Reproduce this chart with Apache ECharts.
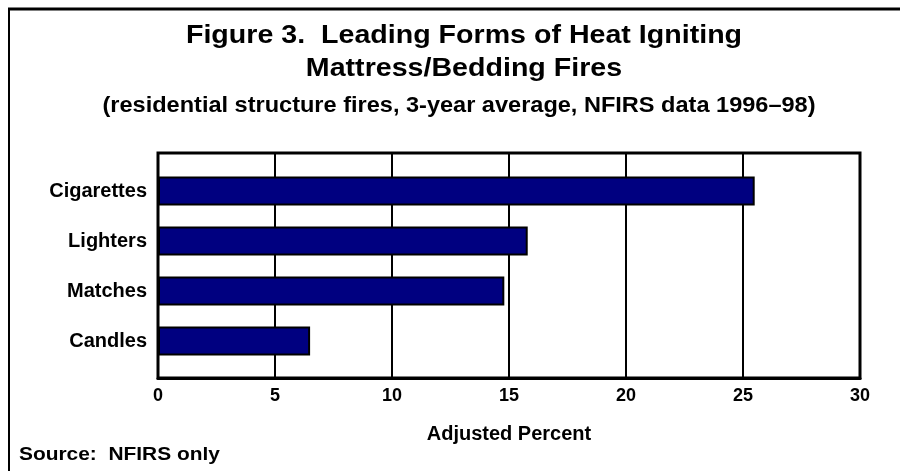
<!DOCTYPE html>
<html>
<head>
<meta charset="utf-8">
<script src="https://cdn.jsdelivr.net/npm/echarts@6/dist/echarts.min.js"></script>
<style>
  html, body { margin: 0; padding: 0; background: #fff; }
  #chart { width: 900px; height: 471px; }
</style>
</head>
<body>
<div id="chart"></div>
<script>
// data
const categories = ["Cigarettes", "Lighters", "Matches", "Candles"];
const percents = [25.5, 15.8, 14.8, 6.5];
const xTicks = { min: 0, max: 30, interval: 5 };

const titleLines = "Figure 3.  Leading Forms of Heat Igniting\nMattress/Bedding Fires";
const subTitle = "(residential structure fires, 3-year average, NFIRS data 1996\u201398)";
const sourceNote = "Source:  NFIRS only";
const xName = "Adjusted Percent";

const FONT = "'Liberation Sans', Arial, Helvetica, sans-serif";

const myChart = echarts.init(document.getElementById("chart"));
const option = {
  backgroundColor: "#fff",
  animation: false,
  textStyle: { fontFamily: FONT },
  grid: [
    // frame + gridlines
    { left: 158, top: 153, width: 702, height: 225, show: true, borderColor: "#000", borderWidth: 3, backgroundColor: "transparent" },
    // bars (categories sit inside a little padding like the original)
    { left: 158, top: 166, width: 702, height: 200 },
  ],
  xAxis: [
    {
      gridIndex: 0,
      type: "value",
      min: xTicks.min,
      max: xTicks.max,
      interval: xTicks.interval,
      axisLine: { show: true, lineStyle: { color: "#000", width: 3 } },
      axisTick: { show: false },
      axisLabel: { color: "#000", fontSize: 18, fontWeight: "bold", margin: 9, fontFamily: FONT },
      splitLine: { show: true, lineStyle: { color: "#000", width: 2 } },
      name: xName,
      nameLocation: "middle",
      nameGap: 46,
      nameTextStyle: { color: "#000", fontSize: 20, fontWeight: "bold", fontFamily: FONT, verticalAlign: "top" },
    },
    {
      gridIndex: 1,
      type: "value",
      min: xTicks.min,
      max: xTicks.max,
      show: false,
    },
  ],
  yAxis: [
    {
      gridIndex: 0,
      type: "value",
      show: false,
    },
    {
      gridIndex: 1,
      type: "category",
      data: categories,
      inverse: true,
      axisLine: { show: false },
      axisTick: { show: false },
      splitLine: { show: false },
      axisLabel: { color: "#000", fontSize: 20, fontWeight: "bold", margin: 11, fontFamily: FONT },
    },
  ],
  series: [
    {
      name: "Adjusted Percent",
      type: "bar",
      xAxisIndex: 1,
      yAxisIndex: 1,
      data: percents,
      barWidth: 29,
      itemStyle: { color: "#000080", borderColor: "#000", borderWidth: 2 },
      z: 5,
    },
  ],
  graphic: [
    // outer figure frame (top and left edges only, as cropped)
    { type: "line", shape: { x1: 8, y1: 9, x2: 900, y2: 9 }, style: { stroke: "#000", lineWidth: 3 } },
    { type: "line", shape: { x1: 9, y1: 8, x2: 9, y2: 471 }, style: { stroke: "#000", lineWidth: 2 } },
    // the original lettering is a bit wider than Arial, hence the scaleX
    {
      type: "text", x: 464, y: 19, scaleX: 1.1,
      style: { text: titleLines, fill: "#000", font: "bold 26px " + FONT, textAlign: "center", lineHeight: 33 },
    },
    {
      type: "text", x: 459, y: 95, scaleX: 1.07,
      style: { text: subTitle, fill: "#000", font: "bold 22px " + FONT, textAlign: "center" },
    },
    {
      type: "text", x: 19, y: 445, scaleX: 1.1,
      style: { text: sourceNote, fill: "#000", font: "bold 19px " + FONT },
    },
  ],
};
myChart.setOption(option);
</script>
</body>
</html>
